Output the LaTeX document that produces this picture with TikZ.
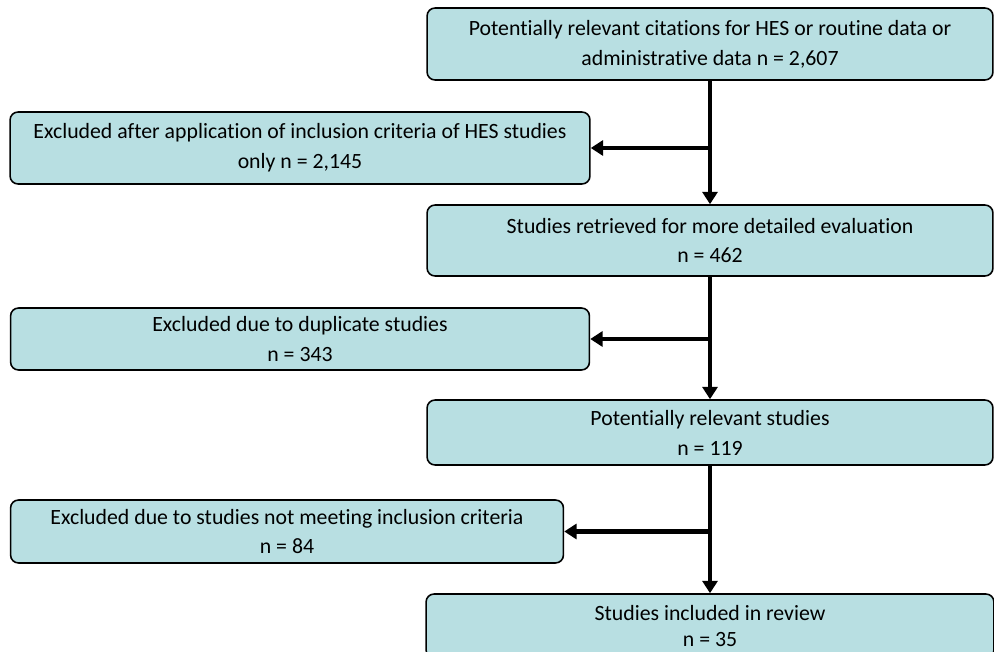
\documentclass[tikz,border=0pt]{standalone}
\usepackage{fontspec}
\setmainfont{Carlito}[Ligatures=NoCommon]
\usetikzlibrary{arrows.meta}
\definecolor{boxfill}{HTML}{B8DFE2}
\begin{document}
\begin{tikzpicture}[x=0.02cm, y=-0.02cm,
    box/.style={draw, fill=boxfill, rounded corners=0.16cm, line width=0.9pt,
      align=center, inner sep=0pt, font=\fontsize{12.4}{17}\selectfont},
    flow/.style={line width=2.3pt, -{Triangle[width=8.5pt,length=7pt]}}]
  \useasboundingbox (0,0) rectangle (994,652);
  % main column
  \node[box, minimum width=11.32cm, minimum height=1.44cm] (cit) at (710,44)
    {Potentially relevant citations for HES or routine data or\\administrative data n = 2,607};
  \node[box, minimum width=11.32cm, minimum height=1.42cm] (ret) at (710,240.5)
    {Studies retrieved for more detailed evaluation\\n = 462};
  \node[box, minimum width=11.32cm, minimum height=1.30cm] (rel) at (710,432.5)
    {Potentially relevant studies\\n = 119};
  \node[box, minimum width=11.36cm, minimum height=1.28cm,
    font=\fontsize{12.4}{14.8}\selectfont] (inc) at (710,626)
    {Studies included in review\\n = 35};
  % exclusions
  \node[box, minimum width=11.60cm, minimum height=1.44cm] (excl1) at (300,148)
    {Excluded after application of inclusion criteria of HES studies\\only n = 2,145};
  \node[box, minimum width=11.58cm, minimum height=1.24cm] (excl2) at (300,339)
    {Excluded due to duplicate studies\\n = 343};
  \node[box, minimum width=11.06cm, minimum height=1.26cm] (excl3) at (287,531.5)
    {Excluded due to studies not meeting inclusion criteria\\n = 84};
  % connectors
  \draw[flow] (cit.south) -- (ret.north);
  \draw[flow] (ret.south) -- (rel.north);
  \draw[flow] (rel.south) -- (inc.north);
  \coordinate (j1) at (cit.south |- excl1.east);
  \coordinate (j2) at (ret.south |- excl2.east);
  \coordinate (j3) at (rel.south |- excl3.east);
  \draw[flow] (j1) -- (excl1.east);
  \draw[flow] (j2) -- (excl2.east);
  \draw[flow] (j3) -- (excl3.east);
\end{tikzpicture}
\end{document}
